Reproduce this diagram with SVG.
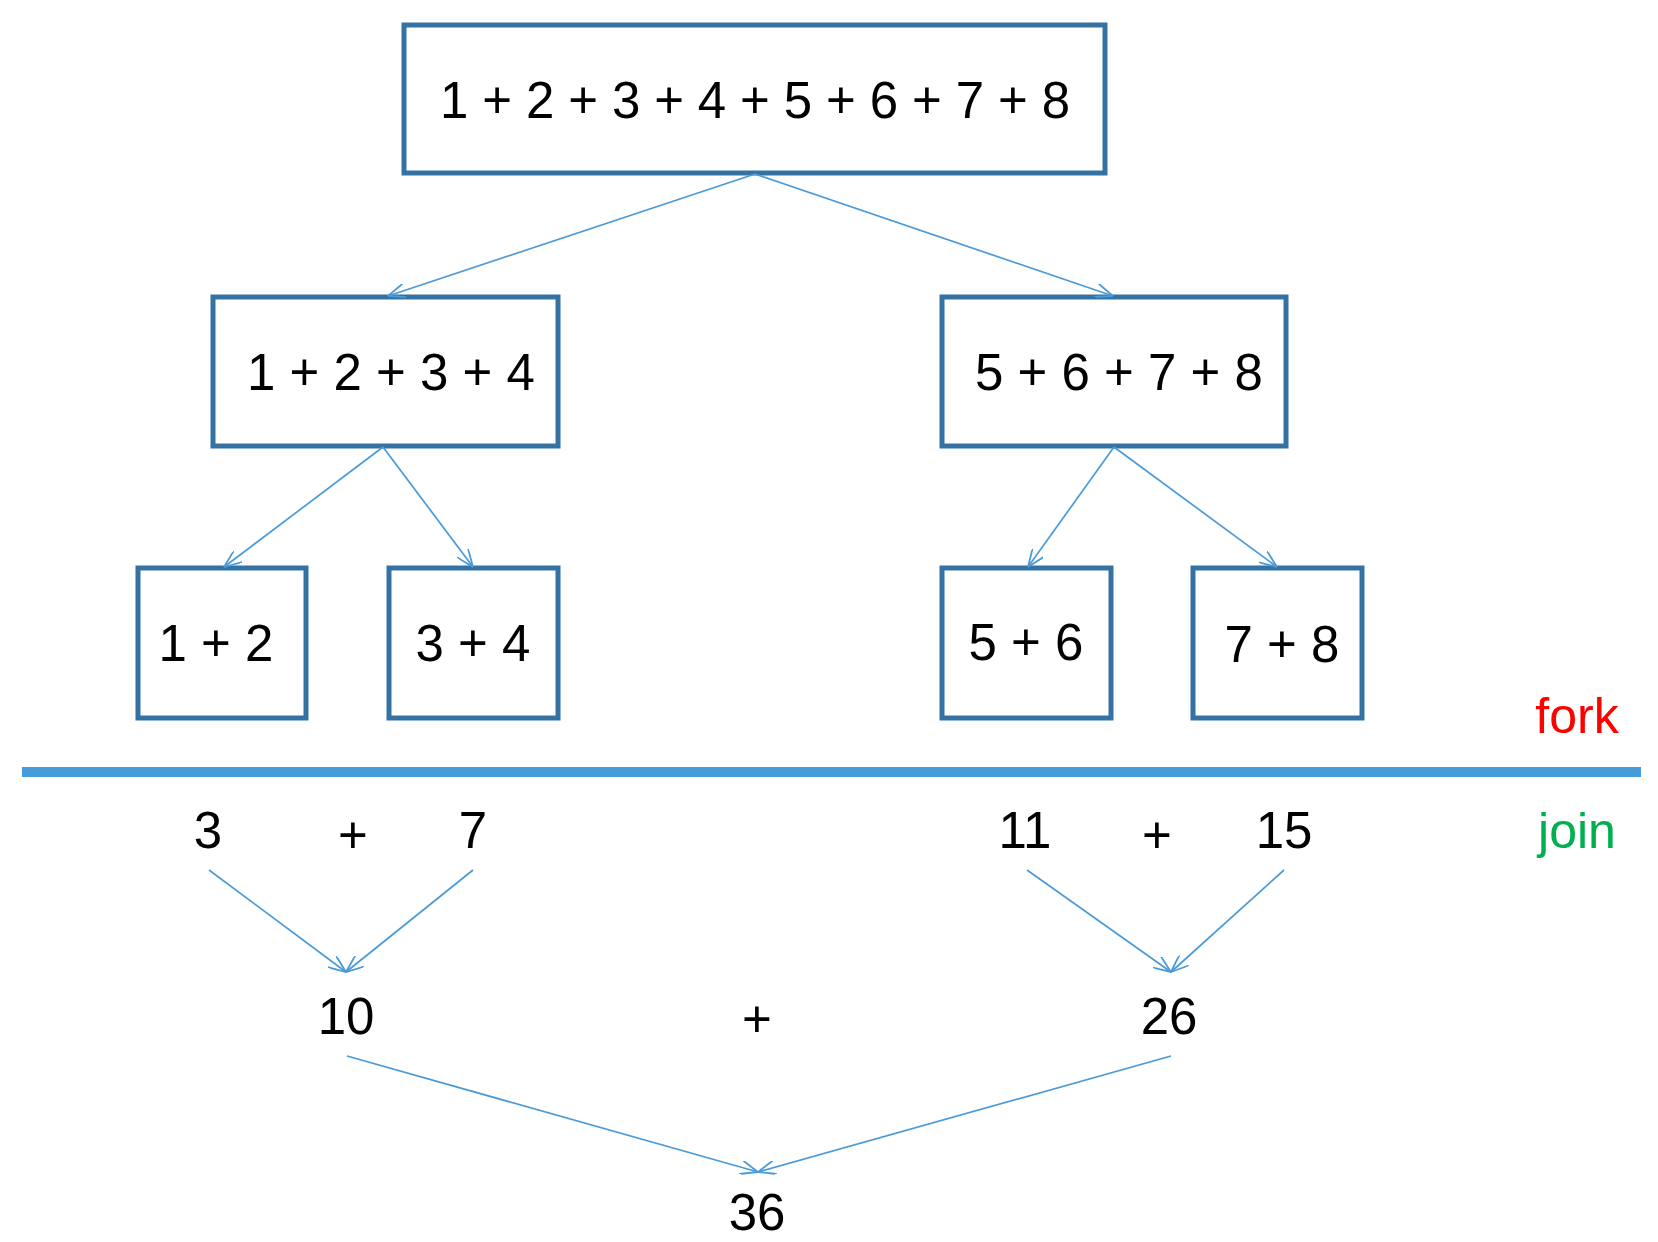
<svg xmlns="http://www.w3.org/2000/svg" width="1658" height="1242" viewBox="0 0 1658 1242">
  <style>
    .box { fill: #ffffff; stroke: #3572a4; stroke-width: 5; }
    .lbl { font-family: "Liberation Sans", Arial, sans-serif; font-size: 51px; fill: #000000; text-anchor: middle; }
    .phase { font-family: "Liberation Sans", Arial, sans-serif; font-size: 50px; text-anchor: middle; }
    .edge { stroke: #4a9ad9; stroke-width: 1.7; fill: none; marker-end: url(#ah); }
  </style>
  <defs>
    <marker id="ah" viewBox="0 0 18 14" refX="17.5" refY="7" markerWidth="18" markerHeight="14" orient="auto" markerUnits="userSpaceOnUse">
      <path d="M0,0 L17.5,7 L0,14" fill="none" stroke="#4a9ad9" stroke-width="1.8"/>
    </marker>
  </defs>

  <rect width="1658" height="1242" fill="#ffffff"/>

  <!-- fork tree -->
  <g id="n-all">
    <rect class="box" x="404" y="25" width="701" height="148"/>
    <text class="lbl" x="755" y="118" textLength="630" lengthAdjust="spacing">1 + 2 + 3 + 4 + 5 + 6 + 7 + 8</text>
  </g>
  <g id="n-1to4">
    <rect class="box" x="213" y="297" width="345" height="149"/>
    <text class="lbl" x="391" y="390">1 + 2 + 3 + 4</text>
  </g>
  <g id="n-5to8">
    <rect class="box" x="942" y="297" width="344" height="149"/>
    <text class="lbl" x="1119" y="390">5 + 6 + 7 + 8</text>
  </g>
  <g id="n-1to2">
    <rect class="box" x="138" y="568" width="168" height="150"/>
    <text class="lbl" x="216" y="661">1 + 2</text>
  </g>
  <g id="n-3to4">
    <rect class="box" x="389" y="568" width="169" height="150"/>
    <text class="lbl" x="473" y="661">3 + 4</text>
  </g>
  <g id="n-5to6">
    <rect class="box" x="942" y="568" width="169" height="150"/>
    <text class="lbl" x="1026" y="660">5 + 6</text>
  </g>
  <g id="n-7to8">
    <rect class="box" x="1193" y="568" width="169" height="150"/>
    <text class="lbl" x="1282" y="662">7 + 8</text>
  </g>

  <!-- phase labels and divider -->
  <g id="phase">
    <rect x="22" y="767" width="1619" height="10" fill="#459cdb"/>
    <text class="phase" x="1577" y="733" fill="#ff0000">fork</text>
    <text class="phase" x="1577" y="848" fill="#00b050">join</text>
  </g>

  <!-- join results -->
  <g id="j-3"><text class="lbl" x="208" y="848">3</text></g>
  <g id="j-plus1"><text class="lbl" x="353" y="853">+</text></g>
  <g id="j-7"><text class="lbl" x="473" y="848">7</text></g>
  <g id="j-11"><text class="lbl" x="1025" y="848">11</text></g>
  <g id="j-plus2"><text class="lbl" x="1157" y="853">+</text></g>
  <g id="j-15"><text class="lbl" x="1284" y="848">15</text></g>
  <g id="j-10"><text class="lbl" x="346" y="1034">10</text></g>
  <g id="j-plus3"><text class="lbl" x="757" y="1037">+</text></g>
  <g id="j-26"><text class="lbl" x="1169" y="1034">26</text></g>
  <g id="j-36"><text class="lbl" x="757" y="1230">36</text></g>

  <!-- connectors -->
  <g id="connectors">
    <line class="edge" x1="755" y1="174" x2="388" y2="296"/>
    <line class="edge" x1="755" y1="174" x2="1113" y2="296"/>
    <line class="edge" x1="383" y1="447" x2="224" y2="567"/>
    <line class="edge" x1="383" y1="447" x2="473" y2="567"/>
    <line class="edge" x1="1114" y1="447" x2="1028" y2="567"/>
    <line class="edge" x1="1114" y1="447" x2="1277" y2="567"/>
    <line class="edge" x1="209" y1="870" x2="346" y2="972"/>
    <line class="edge" x1="473" y1="870" x2="346" y2="972"/>
    <line class="edge" x1="1027" y1="870" x2="1171" y2="972"/>
    <line class="edge" x1="1284" y1="870" x2="1171" y2="972"/>
    <line class="edge" x1="347" y1="1056" x2="758" y2="1172"/>
    <line class="edge" x1="1171" y1="1056" x2="758" y2="1172"/>
  </g>
</svg>
